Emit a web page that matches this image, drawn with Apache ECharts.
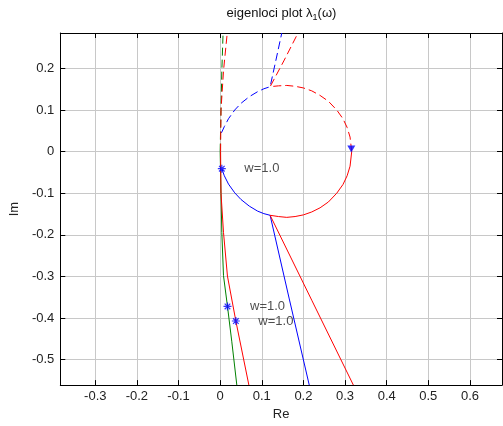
<!DOCTYPE html>
<html>
<head>
<meta charset="utf-8">
<script src="https://cdn.jsdelivr.net/npm/echarts@6/dist/echarts.min.js"></script>
<style>
  html, body { margin: 0; padding: 0; background: #fff; }
  #chart { width: 503px; height: 426px; }
</style>
</head>
<body>
<div id="chart"></div>
<script>
// Axis ranges (Re horizontal, Im vertical)
const reRange = [-0.384, 0.677];
const imRange = [-0.561, 0.285];

// Near-vertical locus (green): positive frequencies (Im <= 0), negative frequencies (Im >= 0)
const greenPos = [[0.000, 0.000], [0.002, -0.100], [0.004, -0.194], [0.008, -0.298], [0.0176, -0.372], [0.028, -0.457], [0.040, -0.561]];
const greenNeg = [[0.000, 0.000], [0.002, 0.100], [0.004, 0.194], [0.007, 0.285]];

// Near-vertical locus (red)
const redVertPos = [[0.001, 0.000], [0.002, -0.100], [0.008, -0.194], [0.0175, -0.299], [0.0377, -0.407], [0.069, -0.561]];
const redVertNeg = [[0.001, 0.000], [0.002, 0.100], [0.008, 0.194], [0.017, 0.285]];

// Blue locus: arc from the w=1.0 point to the branch point, then the straight branch
const bluePos = [[0.004, -0.041], [0.010, -0.058], [0.020, -0.078], [0.035, -0.099], [0.050, -0.115], [0.070, -0.131], [0.090, -0.143], [0.105, -0.149], [0.120, -0.153], [0.166, -0.354], [0.214, -0.561]];
const blueNeg = [[0.003, 0.045], [0.010, 0.060], [0.020, 0.079], [0.035, 0.100], [0.050, 0.116], [0.070, 0.132], [0.090, 0.144], [0.105, 0.151], [0.120, 0.156], [0.134, 0.220], [0.148, 0.285]];

// Red locus: circle arc from the real axis to the branch point, then the straight branch
const redPos = [[0.316, 0.000], [0.312, -0.035], [0.305, -0.058], [0.295, -0.079], [0.280, -0.100], [0.260, -0.121], [0.240, -0.135], [0.220, -0.145], [0.200, -0.152], [0.180, -0.156], [0.160, -0.158], [0.140, -0.156], [0.120, -0.153], [0.220, -0.357], [0.320, -0.561]];
const redNeg = [[0.316, 0.000], [0.312, 0.035], [0.305, 0.058], [0.295, 0.079], [0.280, 0.100], [0.260, 0.121], [0.240, 0.135], [0.220, 0.146], [0.200, 0.153], [0.180, 0.157], [0.160, 0.159], [0.140, 0.158], [0.120, 0.156], [0.154, 0.220], [0.187, 0.285]];

// Frequency markers (w = 1.0) and direction arrow
const freqPoints = [[0.004, -0.041], [0.0176, -0.372], [0.0377, -0.407]];
const freqLabel = 'w=1.0';
const arrowPoint = [[0.315, 0.006]];

const FONT = 'Liberation Sans, Arial, sans-serif';
const BLUE = '#0000ff', RED = '#ff0000', GREEN = '#008000';
const DASH = [8, 4];

function solid(data, color) {
  return { type: 'line', data: data, showSymbol: false, symbol: 'none', silent: true,
           lineStyle: { color: color, width: 1 }, animation: false };
}
function dashed(data, color) {
  return { type: 'line', data: data, showSymbol: false, symbol: 'none', silent: true,
           lineStyle: { color: color, width: 1, type: DASH }, animation: false };
}

const axisLine = { show: true, onZero: false, lineStyle: { color: '#000', width: 1 } };
const axisTick = { show: true, inside: true, length: 5, lineStyle: { color: '#000', width: 1 } };
const gridLine = { show: true, lineStyle: { color: '#c8c8c8', width: 1 } };

const chart = echarts.init(document.getElementById('chart'), null, { renderer: 'canvas' });
chart.setOption({
  animation: false,
  backgroundColor: '#fff',
  grid: { left: 60, top: 33, right: 1, bottom: 40 },
  graphic: [{
    type: 'text', x: 281.5, y: 13,
    style: {
      text: '{a|eigenloci plot λ}{s|1}{a|(ω)}',
      align: 'center', verticalAlign: 'middle',
      rich: {
        a: { fontFamily: FONT, fontSize: 13, fill: '#111', lineHeight: 16 },
        s: { fontFamily: FONT, fontSize: 9, fill: '#111', lineHeight: 16, padding: [9, 0, 0, 0] }
      }
    }
  }],
  xAxis: [{
    type: 'value', position: 'bottom', min: reRange[0], max: reRange[1], splitNumber: 10,
    axisLine: axisLine, axisTick: axisTick, splitLine: gridLine,
    axisLabel: { showMinLabel: false, showMaxLabel: false, margin: 5, color: '#222', fontSize: 13, fontFamily: FONT },
    name: 'Re', nameLocation: 'middle', nameGap: 20,
    nameTextStyle: { color: '#222', fontSize: 13, fontFamily: FONT }
  }, {
    type: 'value', position: 'top', min: reRange[0], max: reRange[1], splitNumber: 10,
    axisLine: axisLine, axisTick: axisTick, splitLine: { show: false }, axisLabel: { show: false }
  }],
  yAxis: [{
    type: 'value', position: 'left', min: imRange[0], max: imRange[1], splitNumber: 8,
    axisLine: axisLine, axisTick: axisTick, splitLine: gridLine,
    axisLabel: { showMinLabel: false, showMaxLabel: false, margin: 6, color: '#222', fontSize: 13, fontFamily: FONT },
    name: 'Im', nameLocation: 'middle', nameGap: 37, nameRotate: 90,
    nameTextStyle: { color: '#222', fontSize: 13, fontFamily: FONT }
  }, {
    type: 'value', position: 'right', min: imRange[0], max: imRange[1], splitNumber: 8,
    axisLine: axisLine, axisTick: axisTick, splitLine: { show: false }, axisLabel: { show: false }
  }],
  series: [
    dashed(greenNeg, GREEN),
    solid(greenPos, GREEN),
    dashed(blueNeg, BLUE),
    solid(bluePos, BLUE),
    dashed(redNeg, RED),
    solid(redPos, RED),
    dashed(redVertNeg, RED),
    solid(redVertPos, RED),
    {
      type: 'scatter', data: freqPoints, silent: true, z: 5,
      symbol: 'path://M0,-10L0,10M-10,0L10,0M-7,-7L7,7M-7,7L7,-7',
      symbolSize: 8,
      itemStyle: { color: 'none', borderColor: BLUE, borderWidth: 1.2 },
      label: { show: true, position: 'right', distance: 16, formatter: freqLabel,
               color: '#222', fontSize: 13, fontFamily: FONT }
    },
    {
      type: 'scatter', data: arrowPoint, silent: true, z: 5,
      symbol: 'triangle', symbolRotate: 180, symbolSize: [8, 7],
      itemStyle: { color: BLUE }
    }
  ]
});
</script>
</body>
</html>
